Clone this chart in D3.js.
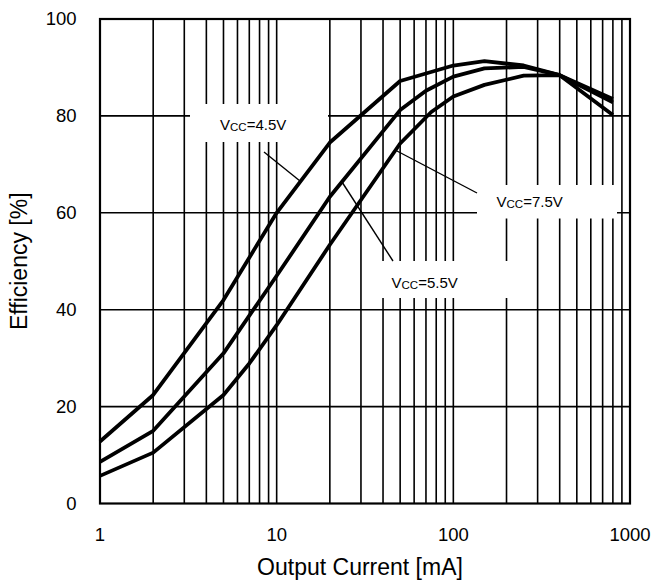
<!DOCTYPE html>
<html>
<head>
<meta charset="utf-8">
<script src="https://cdn.jsdelivr.net/npm/d3@7/dist/d3.min.js"></script>
<style>
  html, body { margin: 0; padding: 0; background: #fff; }
  svg { display: block; font-family: "Liberation Sans", Arial, sans-serif; }
</style>
</head>
<body>
<svg id="chart" width="651" height="582"></svg>
<script>
// ---- data ----
const seriesNames = ["VCC=4.5V", "VCC=5.5V", "VCC=7.5V"];
const currents45 = [1, 2, 5, 10, 20, 50, 100, 150, 250, 400, 800];
const eff45      = [12.8, 22.4, 42, 60, 74.5, 87.2, 90.4, 91.3, 90.4, 88.4, 80.2];
const currents55 = [1, 2, 5, 10, 20, 50, 70, 100, 150, 250, 400, 800];
const eff55      = [8.6, 15, 31, 47, 63.3, 81.2, 85.2, 88.1, 89.8, 90.1, 88.4, 83.5];
const currents75 = [1, 2, 5, 7, 10, 20, 50, 75, 100, 150, 250, 400, 800];
const eff75      = [5.7, 10.5, 22.4, 28.9, 36.8, 53.4, 74.3, 80.8, 84, 86.4, 88.3, 88.4, 82.8];
const xTickValues = [1, 10, 100, 1000];
const xTickLabels = ["1", "10", "100", "1000"];
const yTickValues = [0, 20, 40, 60, 80, 100];
const xTitle = "Output Current [mA]";
const yTitle = "Efficiency [%]";

// label annotations: [series index, text anchor point (I, E), leader from (I,E) to (I,E)]
const labelMain = ["V", "V", "V"];
const labelSub = ["CC", "CC", "CC"];
const labelRest = ["=4.5V", "=5.5V", "=7.5V"];

// ---- layout ----
const svg = d3.select("#chart");
const L = 100, R = 630, T = 19, B = 503.5;
const x = d3.scaleLog().domain([1, 1000]).range([L, R]);
const y = d3.scaleLinear().domain([0, 100]).range([B, T]);

// grid: vertical minor lines 2..9 per decade, plus decades
const vGrid = [];
for (let k = 0; k < 3; k++) {
  for (let m = 1; m <= 9; m++) {
    const v = m * Math.pow(10, k);
    if (v > 1) vGrid.push(v);
  }
}
const g = svg.append("g");
g.selectAll("line.vg").data(vGrid).enter().append("line")
  .attr("x1", d => x(d)).attr("x2", d => x(d))
  .attr("y1", T).attr("y2", B)
  .attr("stroke", "#000").attr("stroke-width", 1.6);
g.selectAll("line.hg").data(yTickValues.filter(v => v > 0 && v < 100)).enter().append("line")
  .attr("x1", L).attr("x2", R)
  .attr("y1", d => y(d)).attr("y2", d => y(d))
  .attr("stroke", "#000").attr("stroke-width", 1.6);

// white label boxes (in data coords via scales) : [I0, I1, E0, E1]
const boxes = [
  [x.invert(190), x.invert(328), y.invert(142), y.invert(104)],
  [x.invert(366), x.invert(528), y.invert(298), y.invert(261)],
  [x.invert(477), x.invert(617), y.invert(218.5), y.invert(185)]
];
svg.selectAll("rect.box").data(boxes).enter().append("rect")
  .attr("x", d => x(d[0])).attr("width", d => x(d[1]) - x(d[0]))
  .attr("y", d => y(d[3])).attr("height", d => y(d[2]) - y(d[3]))
  .attr("fill", "#fff");

// frame
svg.append("rect").attr("x", L).attr("y", T).attr("width", R - L).attr("height", B - T)
  .attr("fill", "none").attr("stroke", "#000").attr("stroke-width", 2.2);

// curves
const series = [
  currents45.map((c, i) => [c, eff45[i]]),
  currents55.map((c, i) => [c, eff55[i]]),
  currents75.map((c, i) => [c, eff75[i]])
];
const line = d3.line().x(d => x(d[0])).y(d => y(d[1]));
svg.selectAll("path.curve").data(series).enter().append("path")
  .attr("d", line).attr("fill", "none").attr("stroke", "#000")
  .attr("stroke-width", 3.8).attr("stroke-linejoin", "round");

// leader lines (pixel ends converted through the scales)
const leaders = [
  [[x.invert(264), y.invert(152)], [x.invert(300), y.invert(181)]],
  [[x.invert(342), y.invert(182)], [x.invert(393), y.invert(261)]],
  [[x.invert(397), y.invert(151)], [x.invert(477), y.invert(193)]]
];
svg.selectAll("line.leader").data(leaders).enter().append("line")
  .attr("x1", d => x(d[0][0])).attr("y1", d => y(d[0][1]))
  .attr("x2", d => x(d[1][0])).attr("y2", d => y(d[1][1]))
  .attr("stroke", "#000").attr("stroke-width", 1.4);

// labels
const labelPos = [[220, 130], [391.5, 287.5], [496.5, 207]];
labelPos.forEach((p, i) => {
  const t = svg.append("text").attr("x", p[0]).attr("y", p[1])
    .attr("font-size", 15).attr("fill", "#000");
  t.append("tspan").text(labelMain[i]);
  t.append("tspan").attr("font-size", 11.5).attr("dy", 1).text(labelSub[i]);
  t.append("tspan").attr("dy", -1).text(labelRest[i]);
});

// tick labels
svg.selectAll("text.xt").data(xTickValues).enter().append("text")
  .attr("x", d => x(d)).attr("y", 541).attr("text-anchor", "middle")
  .attr("font-size", 18.5).text((d, i) => xTickLabels[i]);
svg.selectAll("text.yt").data(yTickValues).enter().append("text")
  .attr("x", 76.5).attr("y", d => y(d)).attr("dy", "0.35em").attr("text-anchor", "end")
  .attr("font-size", 18.5).text(d => d);

// axis titles
svg.append("text").attr("x", (L + R) / 2 - 5).attr("y", 575).attr("text-anchor", "middle")
  .attr("font-size", 23).text(xTitle);
svg.append("text").attr("transform", `translate(27,${(T + B) / 2}) rotate(-90)`)
  .attr("text-anchor", "middle").attr("font-size", 23).text(yTitle);
</script>
</body>
</html>
